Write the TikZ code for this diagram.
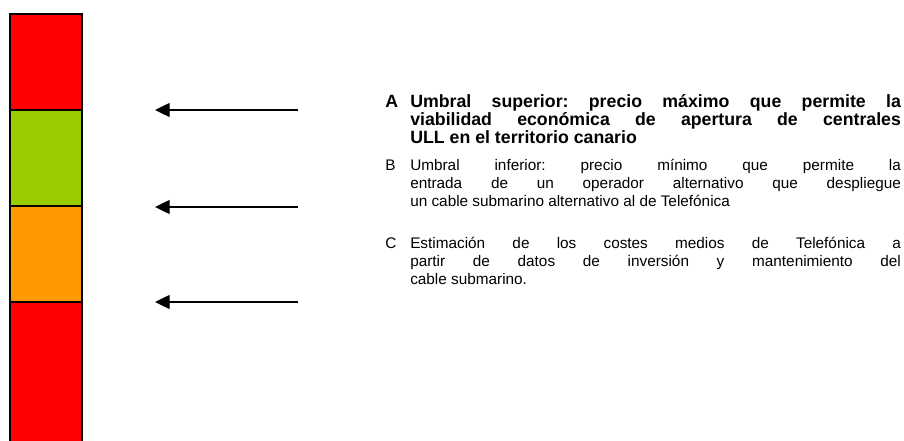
\documentclass[tikz,border=0pt]{standalone}
\usepackage{fontspec}
\setmainfont{Liberation Sans}
\usetikzlibrary{arrows.meta}
\definecolor{barred}{HTML}{FF0000}
\definecolor{bargreen}{HTML}{99CC00}
\definecolor{barorange}{HTML}{FF9900}
\tikzset{
  seg/.style={draw=black, line width=1.5pt},
  ptr/.style={line width=1pt, -{Triangle[length=11pt,width=10.5pt]}},
  desc/.style={anchor=base west, inner sep=0pt, text width=368pt, align=justify,
    font=\fontsize{11.5}{13.2}\selectfont},
  descbold/.style={desc, font=\fontsize{13.3}{13.2}\selectfont\bfseries},
  lbl/.style={anchor=base west, inner sep=0pt, font=\fontsize{11.5}{13.2}\selectfont},
  lblbold/.style={lbl, font=\fontsize{13.3}{13.2}\selectfont\bfseries}
}
\begin{document}
\begin{tikzpicture}[x=0.75pt,y=-0.75pt]
\useasboundingbox (0,0) rectangle (904,441);
\clip (0,0) rectangle (904,441);
\fill[white] (0,0) rectangle (904,441);
% bar
\draw[seg, fill=barred] (10,14) rectangle (82,110);
\draw[seg, fill=bargreen] (10,110) rectangle (82,206);
\draw[seg, fill=barorange] (10,206) rectangle (82,302);
\draw[seg, fill=barred] (10,302) rectangle (82,460);
% arrow anchors
\coordinate (a1) at (298,110); \coordinate (a1t) at (155,110);
\coordinate (a2) at (298,207); \coordinate (a2t) at (155,207);
\coordinate (a3) at (298,302); \coordinate (a3t) at (155,302);
\draw[ptr] (a1) -- (a1t);
\draw[ptr] (a2) -- (a2t);
\draw[ptr] (a3) -- (a3t);
% labels
\node[lblbold] (la) at (385,108) {A};
\node[lbl] (lb) at (385,171) {B};
\node[lbl] (lc) at (385,249) {C};
% descriptions
\node[descbold] (ta) at (410,108) {\frenchspacing\hyphenpenalty=10000 Umbral superior: precio máximo que permite la\linebreak viabilidad económica de apertura de centrales\linebreak ULL en el territorio canario};
\node[desc] (tb) at (410,171) {\frenchspacing\hyphenpenalty=10000 Umbral inferior: precio mínimo que permite la\linebreak entrada de un operador alternativo que despliegue\linebreak un cable submarino alternativo al de Telefónica};
\node[desc] (tc) at (410,249) {\frenchspacing\hyphenpenalty=10000 Estimación de los costes medios de Telefónica a\linebreak partir de datos de inversión y mantenimiento del\linebreak cable submarino.};
\end{tikzpicture}
\end{document}
